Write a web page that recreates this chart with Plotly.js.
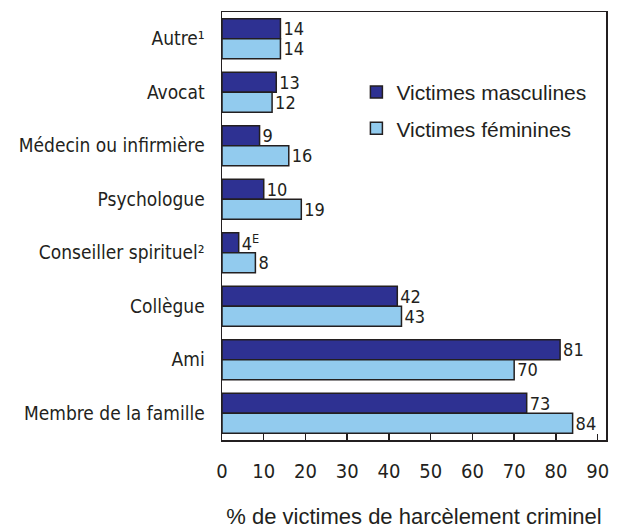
<!DOCTYPE html>
<html>
<head>
<meta charset="utf-8">
<script src="https://cdn.plot.ly/plotly-3.0.1.min.js"></script>
<style>html,body{margin:0;padding:0;background:#fff}#chart{width:617px;height:529px}</style>
</head>
<body>
<div id="chart"></div>
<script>
var categories = ["Autre¹", "Avocat", "Médecin ou infirmière", "Psychologue", "Conseiller spirituel²", "Collègue", "Ami", "Membre de la famille"];
var maleValues = [14, 13, 9, 10, 4, 42, 81, 73];
var femaleValues = [14, 12, 16, 19, 8, 43, 70, 84];
var maleLabels = ["14", "13", "9", "10", "4<sup>E</sup>", "42", "81", "73"];
var femaleLabels = ["14", "12", "16", "19", "8", "43", "70", "84"];
var xTicks = [0, 10, 20, 30, 40, 50, 60, 70, 80, 90];

var narrow = "DejaVu Sans Condensed, sans-serif";
var regular = "Liberation Sans, Arial, sans-serif";

var traces = [
  {
    type: "bar", orientation: "h", name: "Victimes masculines",
    y: categories, x: maleValues, text: maleLabels,
    textposition: "outside", cliponaxis: false, constraintext: "none",
    textfont: {family: narrow, size: 18, color: "#231f20"},
    marker: {color: "#2e3192", line: {color: "#231f20", width: 1.5}},
    legendgroup: "m", hoverinfo: "x+y"
  },
  {
    type: "bar", orientation: "h", name: "Victimes féminines",
    y: categories, x: femaleValues, text: femaleLabels,
    textposition: "outside", cliponaxis: false, constraintext: "none",
    textfont: {family: narrow, size: 18, color: "#231f20"},
    marker: {color: "#92cbee", line: {color: "#231f20", width: 1.5}},
    legendgroup: "f", hoverinfo: "x+y"
  }
];

var layout = {
  width: 617, height: 529,
  margin: {l: 222, r: 11, t: 12, b: 89},
  paper_bgcolor: "#fff", plot_bgcolor: "#fff",
  barmode: "group", bargap: 0.25, bargroupgap: 0,
  showlegend: true,
  legend: {
    x: 0.35, y: 0.86, xanchor: "left", yanchor: "top",
    bgcolor: "rgba(0,0,0,0)",
    font: {family: regular, size: 21, color: "#231f20"},
    traceorder: "grouped", tracegroupgap: 6
  },
  xaxis: {
    range: [0, 92], tickvals: xTicks, ticktext: xTicks.map(String),
    ticks: "inside", ticklen: 6, tickwidth: 1.5, tickcolor: "#231f20",
    showline: true, linecolor: "#231f20", linewidth: 1.5, mirror: true,
    showgrid: false, zeroline: false,
    tickfont: {family: narrow, size: 20, color: "#231f20"},
    ticklabelstandoff: 12,
    title: {text: "% de victimes de harcèlement criminel", font: {family: regular, size: 22, color: "#231f20"}, standoff: 28}
  },
  yaxis: {
    type: "category", categoryorder: "array", categoryarray: categories,
    autorange: "reversed",
    showline: true, linecolor: "#231f20", linewidth: 1.5, mirror: true,
    ticks: "", showgrid: false, zeroline: false,
    tickfont: {family: narrow, size: 19, color: "#231f20"},
    ticklabelstandoff: 12
  }
};

Plotly.newPlot("chart", traces, layout, {staticPlot: true, displayModeBar: false});
</script>
</body>
</html>
